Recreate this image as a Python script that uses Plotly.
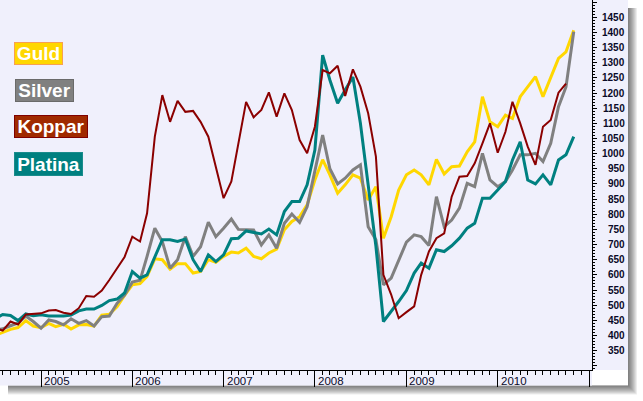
import plotly.graph_objects as go
import pandas as pd

# ---------------- data ----------------
months = pd.date_range("2004-07-01", "2010-11-01", freq="MS").strftime("%Y-%m-%d").tolist()

guld = [400, 409, 420, 426, 449, 431,
        426, 440, 429, 437, 421, 435, 436, 431, 467, 470, 495, 532,
        567, 571, 595, 653, 650, 619, 637, 637, 606, 611, 650, 641,
        661, 675, 672, 688, 661, 653, 672, 685, 749, 776, 792, 831,
        913, 980, 930, 869, 897, 930, 919, 847, 891, 721, 792, 880,
        930, 946, 930, 897, 981, 933, 957, 959, 1006, 1039, 1188, 1105,
        1089, 1127, 1116, 1188, 1220, 1254, 1188, 1248, 1314, 1336, 1407]

silver = [418, 422, 432, 441, 464, 446,
          424, 451, 446, 435, 455, 440, 449, 431, 462, 464, 506, 533,
          576, 582, 661, 754, 710, 622, 650, 726, 661, 693, 774, 726,
          754, 784, 750, 750, 748, 699, 732, 688, 770, 801, 773, 825,
          946, 1061, 950, 900, 919, 946, 963, 759, 716, 567, 589, 650,
          708, 732, 726, 697, 858, 759, 781, 820, 902, 891, 1001, 913,
          891, 908, 946, 996, 996, 1001, 974, 1034, 1155, 1220, 1402]

platina = [455, 469, 466, 449, 471, 465,
           468, 464, 464, 464, 467, 481, 487, 487, 499, 515, 520, 540,
           611, 589, 600, 661, 716, 716, 710, 718, 650, 611, 666, 644,
           666, 719, 721, 745, 740, 735, 751, 732, 809, 842, 842, 897,
           1012, 1325, 1243, 1166, 1210, 1253, 1100, 891, 694, 446, 479, 512,
           548, 606, 639, 622, 683, 677, 696, 721, 754, 770, 853, 853,
           880, 908, 979, 1039, 913, 900, 930, 897, 979, 996, 1056]

koppar = [425, 416, 446, 436, 469, 471,
          473, 482, 484, 475, 471, 490, 530, 528, 548, 583, 623, 659,
          726, 710, 803, 1056, 1193, 1105, 1174, 1138, 1141, 1105, 1056, 957,
          853, 908, 1039, 1171, 1120, 1144, 1202, 1122, 1199, 1144, 1045, 1001,
          1089, 1276, 1265, 1290, 1190, 1278, 1221, 1133, 990, 600, 535, 457,
          477, 496, 600, 677, 721, 737, 858, 924, 926, 968, 1034, 1100,
          1003, 1072, 1171, 1100, 1023, 963, 1089, 1111, 1201, 1231]

series_names = ["Guld", "Silver", "Platina", "Koppar"]
series_values = [guld, silver, platina, koppar]

year_labels = ["2005", "2006", "2007", "2008", "2009", "2010"]
y_tick_values = list(range(350, 1451, 50))

# ---------------- styling ----------------
line_colors = {"Guld": "#FFD700", "Silver": "#808080", "Platina": "#008080", "Koppar": "#8B0000"}
line_widths = {"Guld": 3, "Silver": 3, "Platina": 3, "Koppar": 2}
legend_order = ["Guld", "Silver", "Koppar", "Platina"]
legend_fill = {"Guld": "#FFD700", "Silver": "#808080", "Koppar": "#A02A00", "Platina": "#008080"}
legend_border = {"Guld": "#F8A050", "Silver": "#6A6A6A", "Koppar": "#800000", "Platina": "#1A8C8C"}
legend_box = {"Guld": (14, 42, 49, 23), "Silver": (15, 79, 59, 23),
              "Koppar": (14, 115, 74, 23), "Platina": (14, 152, 69, 24)}

BG = "#F0F0FC"
W, H = 643, 401
PR, PB = 592, 370  # plot area right / bottom in pixels


def px(x):
    return x / PR


def py(y):
    return (PB - y) / PB


fig = go.Figure()
for name, vals in zip(series_names, series_values):
    fig.add_trace(go.Scatter(
        x=months[:len(vals)], y=vals, mode="lines", name=name,
        line=dict(color=line_colors[name], width=line_widths[name]),
        hoverinfo="skip"))

shapes = []
# drop shadow
for j in range(1, 10):
    shapes.append(dict(type="rect", xref="paper", yref="paper", layer="below",
                       x0=px(628), x1=px(628 + j), y0=py(8), y1=py(385.5 + j),
                       fillcolor="rgba(0,0,0,0.07)", line=dict(width=0)))
    shapes.append(dict(type="rect", xref="paper", yref="paper", layer="below",
                       x0=px(8), x1=px(628), y0=py(385.5), y1=py(385.5 + j),
                       fillcolor="rgba(0,0,0,0.07)", line=dict(width=0)))
# label strips
shapes.append(dict(type="rect", xref="paper", yref="paper", layer="below",
                   x0=px(0), x1=px(PR), y0=py(PB), y1=py(385.5),
                   fillcolor=BG, line=dict(width=0)))
shapes.append(dict(type="rect", xref="paper", yref="paper", layer="below",
                   x0=px(PR), x1=px(628), y0=py(0), y1=py(PB),
                   fillcolor=BG, line=dict(width=0)))

annotations = []
# legend boxes
for name in legend_order:
    x0, y0, bw, bh = legend_box[name]
    annotations.append(dict(
        xref="paper", yref="paper", x=px(x0), y=py(y0 + bh / 2),
        xanchor="left", yanchor="middle", showarrow=False,
        text="<b>%s</b>" % name, width=bw - 2, height=bh - 2, align="center",
        font=dict(family="Liberation Sans, Arial", size=19, color="white"),
        bgcolor=legend_fill[name], bordercolor=legend_border[name],
        borderwidth=1, borderpad=0))
# year labels
for yl in year_labels:
    annotations.append(dict(
        xref="x", yref="paper", x=yl + "-01-01", y=py(380.8),
        xanchor="left", yanchor="middle", xshift=1, showarrow=False,
        text=yl, font=dict(family="Liberation Sans, Arial", size=11.5, color="#0A0A28")))
# y tick labels (right aligned)
for v in y_tick_values:
    annotations.append(dict(
        xref="paper", yref="y", x=px(626.5), y=v,
        xanchor="right", yanchor="middle", showarrow=False,
        text="<b>%d</b>" % v, font=dict(family="Liberation Sans, Arial", size=10, color="#0A0A28")))

fig.update_layout(
    width=W, height=H, autosize=False,
    margin=dict(l=0, r=W - PR, t=0, b=H - PB, pad=0),
    paper_bgcolor="white", plot_bgcolor=BG,
    showlegend=False, hovermode=False,
    shapes=shapes, annotations=annotations,
    xaxis=dict(type="date", range=["2004-07-21", "2011-01-13"],
               showgrid=False, zeroline=False, showline=True, linecolor="black", linewidth=1,
               tick0="2005-01-01", dtick="M12", ticks="outside", ticklen=16, tickwidth=1,
               tickcolor="black", showticklabels=False,
               minor=dict(dtick="M1", ticks="outside", ticklen=4, tickwidth=1,
                          tickcolor="black", showgrid=False)),
    yaxis=dict(side="right", range=[286, 1507], showgrid=False, zeroline=False,
               showline=True, linecolor="black", linewidth=1,
               tick0=0, dtick=50, ticks="outside", ticklen=4, tickwidth=1, tickcolor="black",
               showticklabels=False,
               minor=dict(dtick=10, ticks="outside", ticklen=2, tickwidth=1,
                          tickcolor="black", showgrid=False)),
)

fig.write_html("out.html", config={"displayModeBar": False})
